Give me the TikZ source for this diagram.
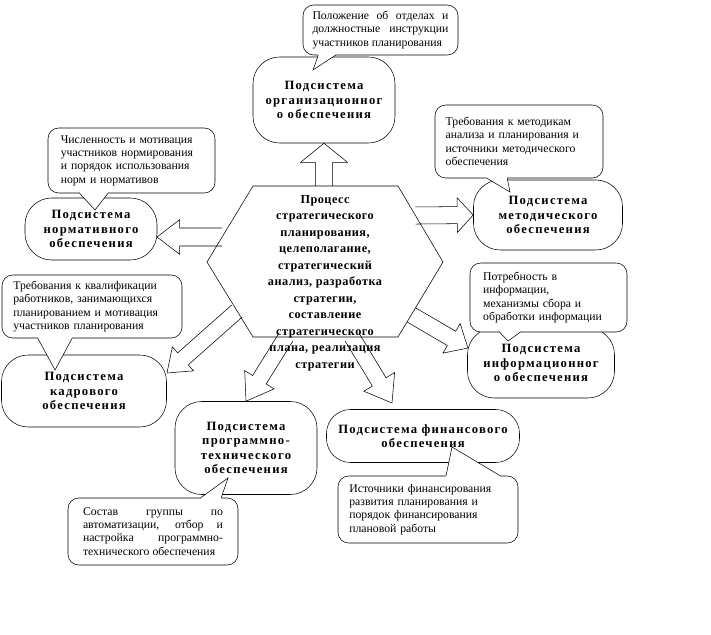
\documentclass[tikz,border=0pt]{standalone}
\usepackage{fontspec}
\setmainfont{Liberation Serif}
\newfontfamily\widesub[LetterSpace=10]{Liberation Serif}
\newfontfamily\wideproc[LetterSpace=4]{Liberation Serif}
\usetikzlibrary{calc}

\tikzset{
  sub/.style={draw, fill=white, rounded corners=20pt, align=center, inner sep=2pt,
    font=\widesub\bfseries\fontsize{9.5}{10.9}\selectfont},
  desc/.style={draw, fill=white, rounded corners=8pt, inner sep=3pt,
    font=\fontsize{8.8}{10}\selectfont},
  proc/.style={align=center, font=\wideproc\bfseries\fontsize{9.2}{12.4}\selectfont},
}

\newcommand\blockarrow[5]{%
  \path ($(#2)!#5!(#1)$) coordinate (hb);
  \draw ($(#1)!#3!90:(#2)$) -- ($(hb)!#3!90:(#2)$) -- ($(hb)!#4!90:(#2)$) -- (#2)
    -- ($(hb)!#4!-90:(#2)$) -- ($(hb)!#3!-90:(#2)$) -- ($(#1)!#3!-90:(#2)$);
}
\newcommand\calltail[3]{%
  \draw[white, line width=1.5pt] (#1) -- (#2);
  \filldraw[fill=white] (#1) -- (#3) -- (#2);
}

\begin{document}
\begin{tikzpicture}[x=0.75pt,y=-0.75pt]
    \useasboundingbox (0,0) rectangle (711,635);
    \draw[fill=white] (253,186) -- (398,186) -- (443,262) -- (398,337) -- (253,337) -- (207,262) -- cycle;
    \node[proc] (proc) at (325,283) {Процесс\\стратегического\\планирования,\\целеполагание,\\стратегический\\анализ, разработка\\стратегии,\\составление\\стратегического\\плана, реализация\\стратегии};

    \node[sub, minimum width=106.5pt, minimum height=64.5pt] (org) at (324,100) {Подсистема\\организационног\\о обеспечения};
    \node[sub, minimum width=99pt, minimum height=46.5pt] (norm) at (91,229) {Подсистема\\нормативного\\обеспечения};
    \node[sub, minimum width=111.75pt, minimum height=52.5pt] (metod) at (548,215) {Подсистема\\методического\\обеспечения};
    \node[sub, minimum width=110.25pt, minimum height=52.5pt] (info) at (541,363) {Подсистема\\информационног\\о обеспечения};
    \node[sub, minimum width=123.75pt, minimum height=54pt] (kadr) at (84,391) {Подсистема\\кадрового\\обеспечения};
    \node[sub, minimum width=106.5pt, minimum height=69.75pt] (prog) at (246,448) {Подсистема\\программно-\\технического\\обеспечения};
    \node[sub, rounded corners=18pt, minimum width=144.75pt, minimum height=39.75pt] (fin) at (423,436) {Подсистема финансового\\обеспечения};

    \coordinate (aOrg) at (324,186);
    \coordinate (aNorm) at (222,237);
    \coordinate (tNorm) at (157,237);
    \coordinate (aMetod) at (415.5,215.5);
    \coordinate (aInfo) at (411.5,315);
    \coordinate (tInfo) at (468,348);
    \coordinate (aKadr) at (237,311);
    \coordinate (tKadr) at (167,373);
    \coordinate (aProg) at (286,337);
    \coordinate (aFin) at (352,337);
    \coordinate (tFin) at (392,403);
    \blockarrow{aOrg}{org.south}{6.4pt}{17.6pt}{14.3pt}
    \blockarrow{aNorm}{tNorm}{6.75pt}{13pt}{17pt}
    \blockarrow{aMetod}{metod.west}{6.4pt}{13pt}{12pt}
    \blockarrow{aInfo}{tInfo}{6.2pt}{12.8pt}{14.3pt}
    \blockarrow{aKadr}{tKadr}{6pt}{12pt}{16pt}
    \blockarrow{aProg}{prog.north}{6pt}{13pt}{19pt}
    \blockarrow{aFin}{tFin}{6pt}{13.5pt}{18.5pt}

    \node[desc, text width=102pt, align=justify, minimum width=116.25pt, minimum height=37.5pt] (dOrg) at (380.5,30) {Положение об отделах и\linebreak должностные инструкции\linebreak участников планирования};
    \node[desc, text width=106pt, align=left, minimum width=125.25pt, minimum height=48.75pt] (dNorm) at (131.5,160.5) {Численность и мотивация\\участников нормирования\\и порядок использования\\норм и нормативов};
    \node[desc, text width=110pt, align=left, minimum width=126pt, minimum height=54.75pt] (dMetod) at (519,141.5) {Требования к методикам\\анализа и планирования и\\источники методического\\обеспечения};
    \node[desc, text width=98pt, align=left, minimum width=117.75pt, minimum height=51.75pt] (dInfo) at (548.5,297.5) {Потребность в\\информации,\\механизмы сбора и\\обработки информации};
    \node[desc, text width=118pt, align=left, minimum width=135pt, minimum height=47.25pt] (dKadr) at (92,306.5) {Требования к квалификации\\работников, занимающихся\\планированием и мотивация\\участников планирования};
    \node[desc, text width=105pt, align=justify, minimum width=127.5pt, minimum height=50.25pt] (dProg) at (153,531.5) {Состав группы по\linebreak автоматизации, отбор и\linebreak настройка программно-\linebreak технического обеспечения};
    \node[desc, text width=118pt, align=left, minimum width=135pt, minimum height=50.25pt] (dFin) at (428,509.5) {Источники финансирования\\развития планирования и\\порядок финансирования\\плановой работы};

    \calltail{$(dOrg.south west)!0.1!(dOrg.south east)$}{$(dOrg.south west)!0.21!(dOrg.south east)$}{313,70}
    \calltail{$(dNorm.south west)!0.19!(dNorm.south east)$}{$(dNorm.south west)!0.36!(dNorm.south east)$}{95,210}
    \calltail{$(dMetod.south west)!0.31!(dMetod.south east)$}{$(dMetod.south west)!0.43!(dMetod.south east)$}{510,192}
    \calltail{$(dInfo.south west)!0.19!(dInfo.south east)$}{$(dInfo.south west)!0.32!(dInfo.south east)$}{508,341}
    \calltail{$(dKadr.south west)!0.2!(dKadr.south east)$}{$(dKadr.south west)!0.39!(dKadr.south east)$}{55,370}
    \calltail{$(dProg.north west)!0.78!(dProg.north east)$}{$(dProg.north west)!0.9!(dProg.north east)$}{228,478}
    \calltail{$(dFin.north west)!0.6!(dFin.north east)$}{$(dFin.north west)!0.9!(dFin.north east)$}{452,447}
\end{tikzpicture}
\end{document}
